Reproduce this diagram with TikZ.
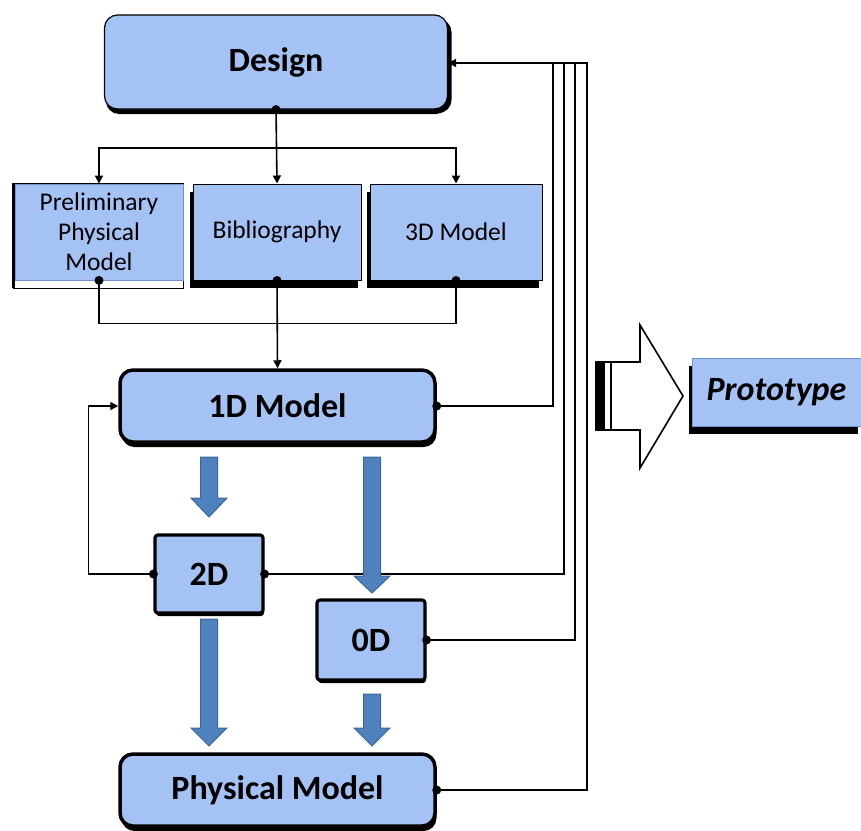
\documentclass[tikz,border=0pt]{standalone}
\usepackage{fontspec}
\setmainfont{Carlito}
\usetikzlibrary{arrows.meta,shadows}
\definecolor{boxblue}{HTML}{A4C2F4}
\definecolor{boxedge}{HTML}{6F93CF}
\definecolor{flowblue}{HTML}{4F81BD}
\definecolor{flowedge}{HTML}{3C6697}
\tikzset{
  conn/.style={line width=1.6pt},
  tip/.style={-{Triangle[length=8pt,width=8pt]}},
  bigtext/.style={font=\fontsize{34}{38}\selectfont\bfseries},
  smalltext/.style={font=\fontsize{25.5}{30}\selectfont},
  roundbox/.style={rounded corners=13pt, fill=boxblue, draw=black, line width=3.5pt,
    drop shadow={shadow xshift=1.5pt, shadow yshift=-5pt, fill=black, opacity=1}},
  sidebox/.style={fill=boxblue, draw=black, line width=1pt,
    drop shadow={shadow xshift=-3pt, shadow yshift=-8pt, fill=black, opacity=1}},
  squarebox/.style={rounded corners=3pt, fill=boxblue, draw=black, line width=3.2pt,
    drop shadow={shadow xshift=1pt, shadow yshift=-3pt, fill=black, opacity=1}},
  flow/.style={fill=flowblue, draw=flowedge, line width=1pt},
  joint/.style={fill=black}
}
\begin{document}
\begin{tikzpicture}[x=1pt,y=-1pt]
  \useasboundingbox (0,0) rectangle (861,830);
  % frame behind the first small box
  \draw[line width=1pt, fill=white] (13,183) rectangle (183,288);
  \fill[black] (12,183) rectangle (15,288);
  \node[roundbox, bigtext, minimum width=343, minimum height=94, line width=1.2pt,
    drop shadow={shadow xshift=4pt, shadow yshift=-4pt, fill=black, opacity=1}]
    (design) at (276,62) {Design};
  \node[fill=boxblue, draw=boxedge, line width=0.8pt, smalltext, align=center,
    minimum width=168, minimum height=96] (prelim) at (99,232)
    {Preliminary\\Physical\\Model};
  \node[sidebox, smalltext, minimum width=168, minimum height=96] (biblio) at (277,232) {Bibliography};
  \node[sidebox, smalltext, minimum width=172, minimum height=96] (model3d) at (456,232) {3D Model};
  \node[roundbox, bigtext, minimum width=315, minimum height=72] (oned) at (277.5,406) {1D Model};
  \node[squarebox, bigtext, minimum width=108, minimum height=78] (twod) at (209,574) {2D};
  \node[squarebox, bigtext, minimum width=108, minimum height=80] (zerod) at (371,640) {0D};
  \node[roundbox, bigtext, minimum width=315, minimum height=72] (phys) at (277.5,790) {Physical Model};
  \node[sidebox, draw=boxedge, font=\fontsize{34}{38}\selectfont\bfseries\itshape,
    minimum width=169, minimum height=68] (proto) at (776.5,392) {Prototype};

  % design to its three inputs
  \coordinate (split) at (277,148);
  \draw[conn, tip] (design.south) -- (biblio.north);
  \draw[conn, tip] (split) -| (prelim.north);
  \draw[conn, tip] (split) -| (model3d.north);
  \draw[conn] (prelim.south) -- ++(0,43) -| (model3d.south);
  \draw[conn, tip] (biblio.south) -- (oned.north);

  % feedback lines
  \coordinate (fb1) at (553,63);
  \coordinate (fb2) at (564,63);
  \coordinate (fb3) at (575,63);
  \coordinate (fb4) at (587,63);
  \draw[conn] (oned.east) -| (fb1);
  \draw[conn] (twod.east) -| (fb2);
  \draw[conn] (zerod.east) -| (fb3);
  \draw[conn, tip] (phys.east) -| (fb4) -- (design.east |- fb4);
  \draw[conn, tip] (twod.west) -- ++(-65,0) |- (oned.west);

  % block arrows
  \foreach \x/\a/\b/\c in {209/457/498/517, 372/457/576/593, 209/619/728/746, 372/694/728/746}
    \draw[flow] ({\x-8.5},\a) -- ({\x+8.5},\a) -- ({\x+8.5},\b) -- ({\x+18},\b)
      -- (\x,\c) -- ({\x-18},\b) -- ({\x-8.5},\b) -- cycle;

  % outline arrow towards the prototype
  \draw[line width=1.6pt, fill=white] (611,362) -- (640,362) -- (640,325) -- (683,396)
    -- (640,468) -- (640,430) -- (611,430) -- cycle;
  \fill[black] (595,362) rectangle (605,430);
  \draw[line width=1.2pt] (595,362) -- (611,362);
  \draw[line width=1.2pt] (595,430) -- (611,430);

  \foreach \n in {design.south, prelim.south, biblio.south, model3d.south,
    oned.east, twod.west, twod.east, zerod.east, phys.east}
    \fill[joint] (\n) circle (4.5);
\end{tikzpicture}
\end{document}
